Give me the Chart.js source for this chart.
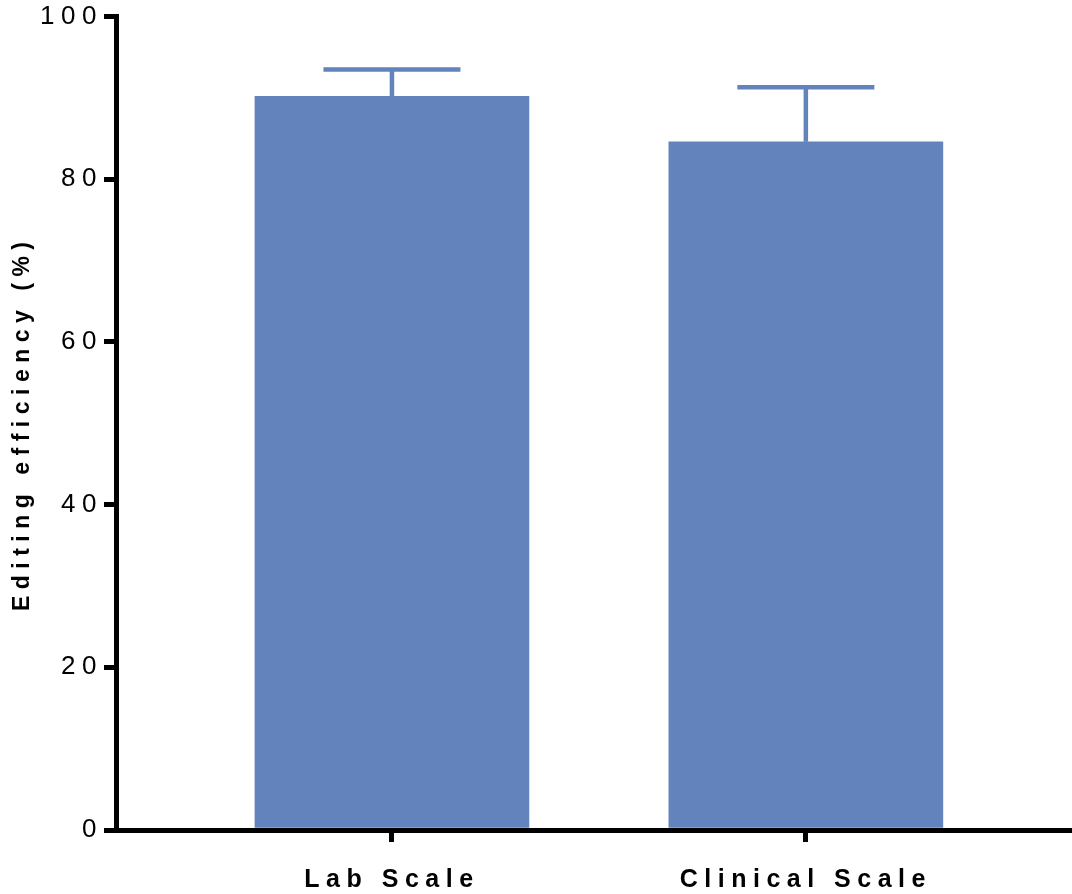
<!DOCTYPE html>
<html>
<head>
<meta charset="utf-8">
<script src="https://cdn.jsdelivr.net/npm/chart.js@4/dist/chart.umd.min.js"></script>
<style>
  body { margin:0; background:#fff; }
  #wrap { width:1072px; height:894px; }
</style>
</head>
<body>
<div id="wrap"><canvas id="chartEdition"></canvas></div>
<script>
// données
const categories = ['Lab Scale', 'Clinical Scale'];
const positions  = [1, 2];
const moyennes   = [90.2, 84.6];
const erreurs    = [3.3, 6.7];
const yTicks     = [0, 20, 40, 60, 80, 100];

const couleurBarre = '#6383BD';
const police = "'Liberation Sans', Arial, sans-serif";

// espacement des lettres comme sur l'export d'origine
const espacement = {
  id: 'espacement',
  beforeLayout: (chart) => { chart.ctx.letterSpacing = '6.5px'; },
  beforeDraw:   (chart) => { chart.ctx.letterSpacing = '6.5px'; }
};

// barres d'erreur (SD, vers le haut seulement)
const barresErreur = {
  id: 'barresErreur',
  afterDatasetsDraw: (chart) => {
    const { ctx } = chart;
    const y = chart.scales.y;
    const meta = chart.getDatasetMeta(0);
    ctx.save();
    ctx.strokeStyle = couleurBarre;
    ctx.lineWidth = 4.5;
    meta.data.forEach((bar, i) => {
      const haut = y.getPixelForValue(moyennes[i] + erreurs[i]);
      const demi = bar.width / 4;
      ctx.beginPath();
      ctx.moveTo(bar.x, bar.y);
      ctx.lineTo(bar.x, haut);
      ctx.moveTo(bar.x - demi, haut);
      ctx.lineTo(bar.x + demi, haut);
      ctx.stroke();
    });
    ctx.restore();
  }
};

new Chart(document.getElementById('chartEdition'), {
  type: 'bar',
  data: {
    datasets: [{
      data: positions.map((p, i) => ({ x: p, y: moyennes[i] })),
      backgroundColor: couleurBarre,
      borderWidth: 0,
      barThickness: 274
    }]
  },
  options: {
    responsive: true,
    maintainAspectRatio: false,
    animation: false,
    layout: { padding: { top: 16, right: 0, bottom: 0, left: 0 } },
    plugins: { legend: { display: false }, tooltip: { enabled: false } },
    scales: {
      x: {
        type: 'linear',
        offset: false,
        min: 1 / 3,
        max: 2.643,
        afterBuildTicks: (s) => { s.ticks = positions.map(v => ({ value: v })); },
        afterFit: (s) => { s.height = 64; },
        ticks: {
          callback: (v, i) => categories[i],
          color: '#000',
          font: { family: police, size: 25, weight: 'bold' },
          padding: 23,
          maxRotation: 0,
          autoSkip: false
        },
        grid: { offset: false, drawOnChartArea: false, drawTicks: true, tickLength: 12, lineWidth: 5, color: '#000', z: 1 },
        border: { display: true, color: '#000', width: 5, z: 1 }
      },
      y: {
        min: 0,
        max: 100,
        afterBuildTicks: (s) => { s.ticks = yTicks.map(v => ({ value: v })); },
        afterFit: (s) => { s.width = 116; },
        ticks: {
          color: '#000',
          font: { family: police, size: 26 },
          padding: 1
        },
        grid: { drawOnChartArea: false, drawTicks: true, tickLength: 12, lineWidth: 5, color: '#000', z: 1 },
        border: { display: true, color: '#000', width: 5, z: 1 },
        title: {
          display: true,
          text: 'Editing efficiency (%)',
          color: '#000',
          font: { family: police, size: 23, weight: 'bold' },
          padding: { top: 9, bottom: 0 }
        }
      }
    }
  },
  plugins: [espacement, barresErreur]
});
</script>
</body>
</html>
